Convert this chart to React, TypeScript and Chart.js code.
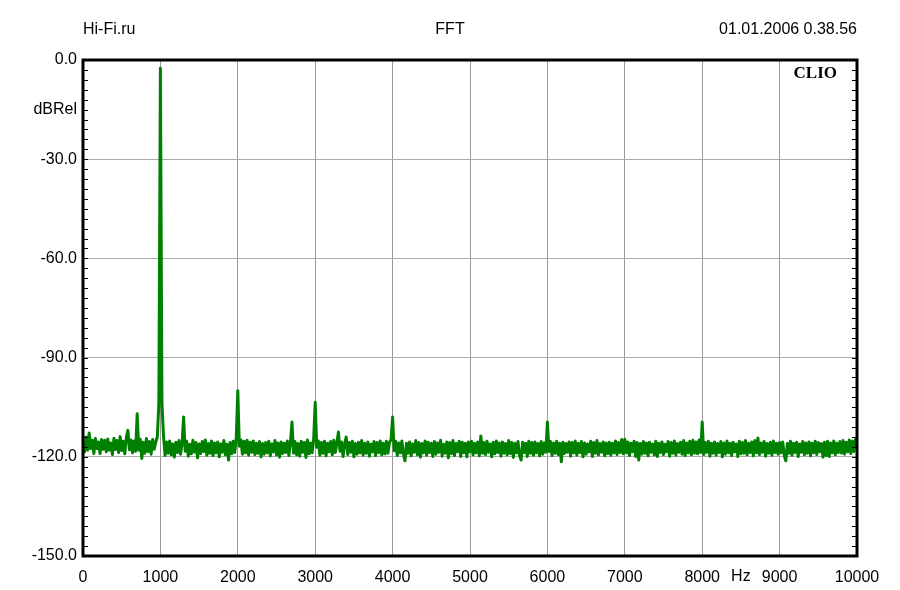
import React, { useEffect, useRef } from "react";
import { Chart, registerables } from "chart.js";

Chart.register(...registerables);

// Frequency grid step (Hz) of the FFT trace below
const FREQ_STEP = 20;

// Levels in dBRel, 50 values per 1000 Hz band (k*1000 .. k*1000+980)
const band0 = [
  -115.5, -118.5, -114.0, -118.0, -112.8, -117.5, -115.0, -119.0, -114.5, -117.5,
  -115.5, -119.0, -114.8, -117.7, -115.0, -118.5, -114.6, -118.0, -115.8, -119.3,
  -114.4, -117.8, -115.1, -118.7, -113.9, -118.1, -115.3, -119.1, -114.2, -112.0,
  -117.9, -114.9, -118.8, -115.2, -118.3, -107.0, -118.0, -114.7, -120.5, -115.6,
  -118.9, -114.5, -118.4, -115.4, -119.2, -114.8, -117.7, -115.6, -114.0, -104.0,
];
const band1 = [
  -2.5, -104.0, -113.5, -119.6, -115.5, -118.9, -115.2, -119.4, -116.1, -120.1,
  -115.6, -118.7, -115.1, -119.2, -115.9, -108.0, -118.3, -115.3, -119.8, -116.2,
  -119.1, -115.0, -118.6, -115.7, -120.3, -116.1, -119.0, -115.4, -118.4, -114.9,
  -119.5, -116.0, -118.9, -115.2, -119.6, -115.8, -118.8, -115.5, -120.0, -116.1,
  -118.6, -115.1, -119.4, -116.2, -121.0, -115.7, -119.1, -115.3, -118.7, -114.5,
];
const band2 = [
  -100.0, -116.8, -114.9, -119.2, -115.3, -118.8, -115.0, -119.5, -115.6, -118.6,
  -115.2, -119.3, -115.9, -118.9, -115.4, -120.0, -116.0, -119.2, -115.7, -118.8,
  -115.3, -119.7, -116.1, -118.5, -115.1, -119.4, -115.8, -120.1, -115.5, -119.0,
  -115.9, -118.7, -115.2, -119.6, -115.6, -109.5, -118.9, -115.4, -119.4, -116.0,
  -119.8, -115.3, -118.6, -115.7, -120.2, -114.9, -119.1, -115.8, -118.8, -114.8,
];
const band3 = [
  -103.5, -117.1, -115.2, -119.5, -115.7, -118.9, -115.3, -119.7, -115.9, -118.5,
  -115.4, -119.4, -115.0, -118.7, -115.8, -112.5, -118.3, -115.5, -119.9, -116.1,
  -114.0, -119.3, -115.7, -118.6, -115.3, -120.0, -116.0, -119.2, -115.6, -118.8,
  -115.1, -119.5, -115.9, -118.9, -115.5, -119.8, -116.2, -118.5, -115.4, -119.6,
  -115.7, -118.7, -115.2, -119.4, -115.9, -119.1, -115.3, -118.9, -115.6, -114.9,
];
const band4 = [
  -108.0, -118.2, -115.3, -119.6, -115.8, -118.8, -115.2, -119.3, -121.2, -115.9,
  -118.9, -115.5, -119.7, -116.1, -118.6, -115.1, -119.4, -115.7, -120.1, -116.0,
  -118.8, -115.2, -119.5, -115.6, -118.7, -115.9, -119.9, -115.4, -119.2, -115.8,
  -118.6, -115.0, -119.8, -116.2, -118.9, -115.5, -120.3, -115.7, -119.0, -115.1,
  -119.6, -116.0, -118.5, -115.3, -119.9, -115.6, -118.8, -115.9, -120.0, -115.5,
];
const band5 = [
  -118.5, -115.3, -119.4, -115.9, -118.8, -115.5, -119.7, -113.7, -118.9, -115.7,
  -119.3, -115.3, -118.6, -116.1, -120.0, -115.6, -119.1, -115.2, -118.7, -115.8,
  -119.8, -115.5, -118.9, -116.0, -119.4, -115.1, -119.0, -115.7, -120.2, -115.9,
  -118.8, -115.4, -119.6, -121.0, -115.6, -118.7, -115.9, -119.9, -115.3, -118.9,
  -115.7, -119.5, -115.5, -118.8, -116.0, -119.7, -115.4, -119.2, -115.8, -118.6,
];
const band6 = [
  -109.5, -118.4, -115.4, -119.6, -115.8, -118.9, -115.3, -119.3, -115.9, -121.5,
  -115.6, -119.0, -116.0, -118.6, -115.5, -119.8, -115.7, -118.8, -115.2, -119.5,
  -115.9, -118.7, -115.4, -120.0, -115.8, -119.2, -116.1, -118.5, -115.3, -119.9,
  -115.7, -118.9, -115.1, -119.4, -116.0, -118.6, -115.5, -119.7, -115.8, -119.0,
  -115.6, -119.5, -115.9, -118.8, -115.2, -119.3, -115.7, -118.7, -114.8, -119.1,
];
const band7 = [
  -114.7, -118.8, -115.5, -119.6, -115.9, -118.5, -115.3, -119.9, -115.7, -121.0,
  -116.0, -119.2, -115.4, -118.9, -115.8, -119.7, -115.6, -118.6, -116.1, -119.4,
  -115.3, -119.9, -115.9, -118.7, -115.5, -119.3, -116.2, -118.5, -115.4, -119.8,
  -115.7, -118.9, -115.2, -119.5, -116.0, -118.6, -115.6, -119.2, -115.1, -119.6,
  -115.8, -118.8, -115.3, -119.4, -115.0, -118.9, -115.5, -119.1, -114.9, -118.7,
];
const band8 = [
  -109.5, -119.3, -115.7, -118.6, -115.3, -119.8, -115.9, -118.9, -115.5, -119.5,
  -116.0, -118.7, -115.4, -120.0, -115.8, -119.2, -115.2, -118.8, -115.9, -119.6,
  -115.6, -118.5, -116.1, -119.9, -115.3, -119.1, -115.7, -118.9, -115.1, -119.4,
  -115.9, -118.7, -115.5, -119.7, -115.1, -118.8, -114.3, -119.3, -115.8, -118.6,
  -115.4, -119.8, -116.0, -118.9, -115.6, -119.5, -115.2, -118.7, -115.9, -119.2,
];
const band9 = [
  -115.7, -118.8, -115.5, -119.6, -121.2, -116.0, -118.9, -115.3, -119.5, -115.9,
  -118.7, -115.6, -119.9, -116.1, -118.6, -115.4, -119.4, -115.8, -118.9, -115.5,
  -119.7, -115.9, -118.8, -115.3, -119.3, -115.7, -118.5, -116.0, -120.1, -115.6,
  -119.6, -115.3, -119.9, -115.8, -118.8, -115.2, -119.4, -115.9, -118.7, -115.4,
  -118.9, -115.1, -119.2, -115.6, -118.5, -114.9, -119.0, -115.2, -118.4, -114.8,
];
const lastLevel = [-116.5];

const levels = [
  ...band0, ...band1, ...band2, ...band3, ...band4,
  ...band5, ...band6, ...band7, ...band8, ...band9, ...lastLevel,
];

const HEADER_LEFT = "Hi-Fi.ru";
const HEADER_CENTER = "FFT";
const HEADER_RIGHT = "01.01.2006 0.38.56";
const Y_UNIT = "dBRel";
const X_UNIT = "Hz";
const BRAND = "CLIO";

const FONT = "'Liberation Sans', Arial, sans-serif";

export default function App() {
  const ref = useRef<HTMLCanvasElement | null>(null);

  useEffect(() => {
    document.body.style.margin = "0";
    const canvas = ref.current;
    if (!canvas) return;

    const data = levels.map((v, i) => ({ x: i * FREQ_STEP, y: v }));

    const decor = {
      id: "decor",
      afterDraw(chart: any) {
        const { ctx, chartArea } = chart;
        const { left, right, top, bottom } = chartArea;
        const ys = chart.scales.y;
        const xs = chart.scales.x;
        ctx.save();
        // inward minor ticks on left and right
        ctx.strokeStyle = "#000";
        ctx.lineWidth = 1;
        for (let v = -150; v <= 0; v += 3) {
          const py = Math.round(ys.getPixelForValue(v)) + 0.5;
          ctx.beginPath();
          ctx.moveTo(left, py);
          ctx.lineTo(left + 5, py);
          ctx.moveTo(right - 5, py);
          ctx.lineTo(right, py);
          ctx.stroke();
        }
        // frame
        ctx.lineWidth = 3;
        ctx.strokeStyle = "#000";
        ctx.strokeRect(left, top, right - left, bottom - top);

        ctx.fillStyle = "#000";
        ctx.font = `16px ${FONT}`;
        ctx.textBaseline = "middle";
        ctx.textAlign = "left";
        ctx.fillText(HEADER_LEFT, left, 30);
        ctx.textAlign = "center";
        ctx.fillText(HEADER_CENTER, (left + right) / 2 - 20, 30);
        ctx.textAlign = "right";
        ctx.fillText(HEADER_RIGHT, right, 30);
        // y unit
        ctx.textAlign = "right";
        ctx.fillText(Y_UNIT, left - 6, 110);
        // x unit between 8000 and 9000
        ctx.textAlign = "center";
        const hx = (xs.getPixelForValue(8000) + xs.getPixelForValue(9000)) / 2;
        ctx.fillText(X_UNIT, hx, bottom + 21);
        // brand
        ctx.font = `bold 17px 'Liberation Serif', 'Times New Roman', serif`;
        ctx.textAlign = "right";
        ctx.fillText(BRAND, right - 20, 74);
        ctx.restore();
      },
    };

    const chart = new Chart(canvas, {
      type: "line",
      data: {
        datasets: [
          {
            data,
            borderColor: "#008000",
            borderWidth: 3,
            borderJoinStyle: "round",
            borderCapStyle: "round",
            pointRadius: 0,
            tension: 0,
            fill: false,
          },
        ],
      },
      options: {
        animation: false,
        responsive: true,
        maintainAspectRatio: false,
        layout: { padding: { left: 0, right: 43, top: 60, bottom: 0 } },
        plugins: {
          legend: { display: false },
          tooltip: { enabled: false },
          title: { display: false },
        },
        scales: {
          x: {
            type: "linear",
            min: 0,
            max: 10000,
            border: { display: false },
            grid: {
              color: "#999",
              lineWidth: 1,
              drawTicks: false,
            },
            ticks: {
              stepSize: 1000,
              autoSkip: false,
              maxRotation: 0,
              color: "#000",
              padding: 12,
              font: { family: FONT, size: 16 },
              callback: (v: any) => {
                const n = Number(v);
                return n % 1000 === 0 ? String(n) : "";
              },
            },
            afterFit: (s: any) => {
              s.height = 34;
            },
          },
          y: {
            type: "linear",
            min: -150,
            max: 0,
            border: { display: false },
            grid: {
              drawTicks: false,
              lineWidth: 1,
              color: (c: any) => {
                const v = Math.round(c.tick ? c.tick.value : 0);
                return v % 30 === 0 ? "#aaa" : "rgba(0,0,0,0)";
              },
            },
            ticks: {
              stepSize: 3,
              autoSkip: false,
              color: "#000",
              padding: 6,
              font: { family: FONT, size: 16 },
              callback: (v: any) => {
                const n = Math.round(Number(v));
                return n % 30 === 0 ? n.toFixed(1) : "";
              },
            },
            afterFit: (s: any) => {
              s.width = 83;
            },
          },
        },
      },
      plugins: [decor],
    });

    return () => chart.destroy();
  }, []);

  return (
    <div style={{ width: 900, height: 590, position: "relative", background: "#fff" }}>
      <canvas ref={ref} />
    </div>
  );
}
